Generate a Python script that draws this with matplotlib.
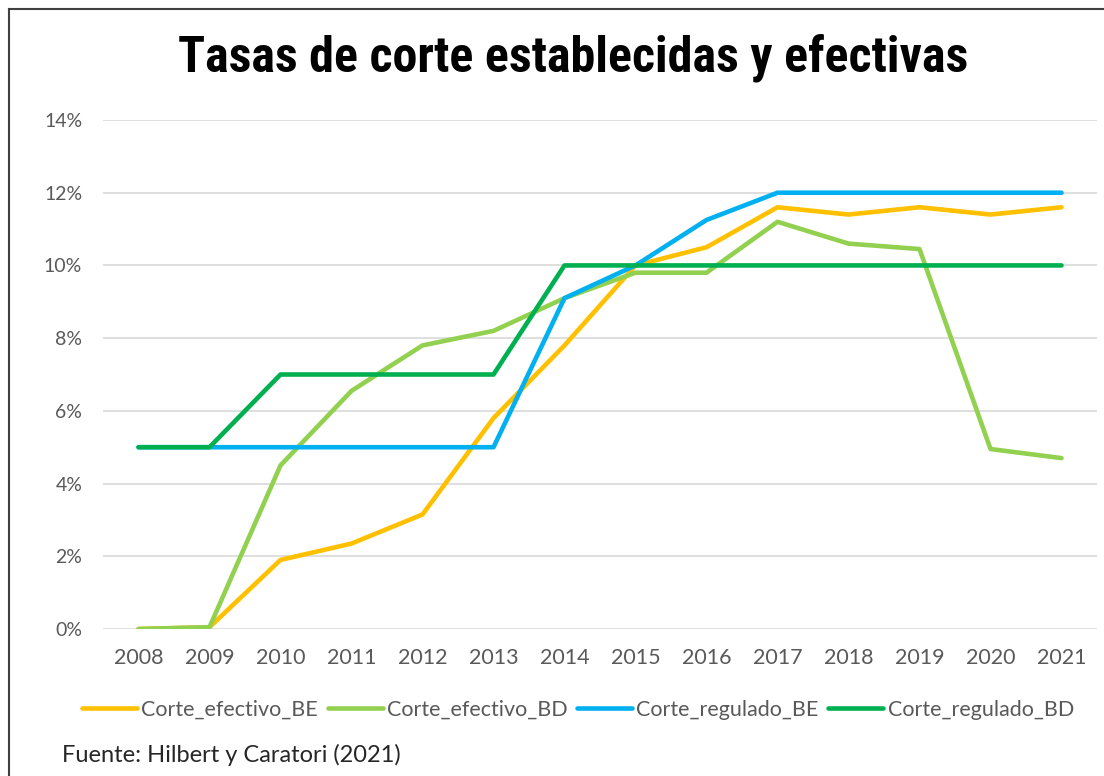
import matplotlib
matplotlib.use("Agg")
import matplotlib.pyplot as plt
from matplotlib.lines import Line2D
from matplotlib.ticker import FuncFormatter
from matplotlib import font_manager

# Data (percent)
years = [2008, 2009, 2010, 2011, 2012, 2013, 2014, 2015, 2016, 2017, 2018, 2019, 2020, 2021]
efectivo_be = [0.0, 0.05, 1.9, 2.35, 3.15, 5.8, 7.8, 10.0, 10.5, 11.6, 11.4, 11.6, 11.4, 11.6]
efectivo_bd = [0.0, 0.05, 4.5, 6.55, 7.8, 8.2, 9.1, 9.8, 9.8, 11.2, 10.6, 10.45, 4.95, 4.7]
regulado_be = [5.0, 5.0, 5.0, 5.0, 5.0, 5.0, 9.1, 10.0, 11.25, 12.0, 12.0, 12.0, 12.0, 12.0]
regulado_bd = [5.0, 5.0, 7.0, 7.0, 7.0, 7.0, 10.0, 10.0, 10.0, 10.0, 10.0, 10.0, 10.0, 10.0]

series = [
    ("Corte_efectivo_BE", efectivo_be, "#FFC000"),
    ("Corte_efectivo_BD", efectivo_bd, "#92D050"),
    ("Corte_regulado_BE", regulado_be, "#00B0F0"),
    ("Corte_regulado_BD", regulado_bd, "#00B050"),
]

# pick a condensed bold family for the title if one is installed
installed = {f.name for f in font_manager.fontManager.ttflist}
title_fam = "Roboto"
for cand in ["Roboto Condensed", "DejaVu Sans Condensed", "Liberation Sans Narrow",
             "Open Sans Condensed", "Noto Sans Condensed"]:
    if cand in installed:
        title_fam = cand
        break

W, H = 1104, 776
fig = plt.figure(figsize=(W / 100, H / 100), dpi=100)
ax = fig.add_axes([103 / W, 1 - 629 / H, (1097 - 103) / W, (629 - 120) / H])

for name, vals, color in series:
    ax.plot(years, vals, color=color, lw=3.3, solid_capstyle="round",
            solid_joinstyle="round", label=name)

ax.set_xlim(2007.5, 2021.5)
ax.set_ylim(0, 14)
ax.set_xticks(years)
ax.set_yticks(range(0, 15, 2))
ax.yaxis.set_major_formatter(FuncFormatter(lambda v, p: f"{int(v)}%"))
ax.tick_params(length=0, labelcolor="#595959")
ax.tick_params(axis="y", labelsize=14, pad=15)
ax.tick_params(axis="x", labelsize=15.5, pad=14)
for lab in ax.get_xticklabels() + ax.get_yticklabels():
    lab.set_fontfamily(["Lato", "DejaVu Sans"])
ax.grid(True, axis="y", color="#D9D9D9", lw=1.2)
ax.set_axisbelow(True)
for s in ax.spines.values():
    s.set_visible(False)

fig.text(573 / W, 1 - 58 / H, "Tasas de corte establecidas y efectivas",
         ha="center", va="center", fontsize=36 if "Cond" in title_fam or "Narrow" in title_fam else 34,
         fontweight="bold", family=[title_fam, "DejaVu Sans"], color="black")

handles = [Line2D([], [], color=c, lw=3.3, solid_capstyle="round") for _, _, c in series]
leg = fig.legend(handles, [n for n, _, _ in series], loc="center",
                 bbox_to_anchor=(578 / W, 1 - 710 / H), ncol=4, frameon=False,
                 handlelength=2.55, handletextpad=0.2, columnspacing=0.45,
                 prop={"family": ["Lato", "DejaVu Sans"], "size": 15.5})
for t in leg.get_texts():
    t.set_color("#595959")

fig.text(62 / W, 1 - 755 / H, "Fuente: Hilbert y Caratori (2021)", ha="left",
         va="center", fontsize=17, family=["Lato", "DejaVu Sans"], color="#262626")

# frame edges of the original screenshot (left and top)
fig.add_artist(Line2D([9 / W, 9 / W], [0, 1 - 9 / H], transform=fig.transFigure,
                      color="#404040", lw=1.5))
fig.add_artist(Line2D([9 / W, 1], [1 - 9 / H, 1 - 9 / H], transform=fig.transFigure,
                      color="#404040", lw=1.5))

fig.savefig("out.png", dpi=100)
